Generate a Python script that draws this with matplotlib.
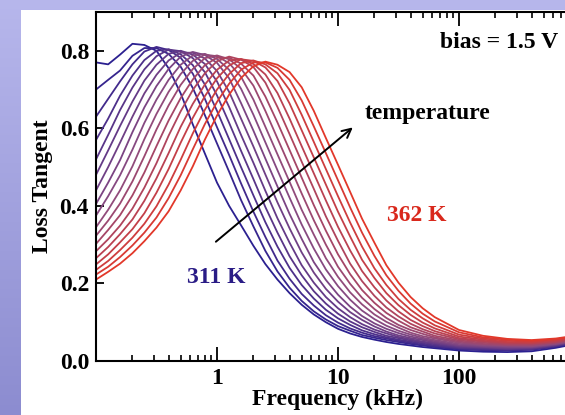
import numpy as np
import matplotlib
matplotlib.use("Agg")
import matplotlib.pyplot as plt
from matplotlib.colors import LinearSegmentedColormap
from matplotlib.patches import Rectangle
from matplotlib.ticker import FixedLocator, LogLocator, NullFormatter

plt.rcParams["font.family"] = ["Liberation Serif", "DejaVu Serif"]
plt.rcParams["font.weight"] = "bold"

# measurement frequencies (kHz): 0.1 decade apart up to 63 kHz, then 0.2 decade
freq_khz = [0.1, 0.126, 0.158, 0.2, 0.251, 0.316, 0.398, 0.501, 0.631, 0.794,
            1.0, 1.26, 1.58, 2.0, 2.51, 3.16, 3.98, 5.01, 6.31, 7.94,
            10, 12.6, 15.8, 20, 25.1, 31.6, 39.8, 50.1, 63.1,
            100, 158, 251, 398, 631, 1000]

temps_k = [311, 314, 317, 320, 323, 326, 329, 332, 335,
           338, 341, 344, 347, 350, 353, 356, 359, 362]

# loss tangent at each temperature (bias 1.5 V)
lt_311 = [0.77, 0.765, 0.79, 0.818, 0.815, 0.80, 0.755, 0.69, 0.61, 0.535,
          0.46, 0.40, 0.35, 0.297, 0.25, 0.21, 0.175, 0.145, 0.12, 0.10,
          0.083, 0.071, 0.062, 0.055, 0.049, 0.044, 0.040, 0.036, 0.033,
          0.027, 0.024, 0.023, 0.025, 0.034, 0.046]
lt_314 = [0.70, 0.725, 0.749, 0.787, 0.807, 0.807, 0.792, 0.759, 0.704, 0.634,
          0.561, 0.488, 0.415, 0.347, 0.284, 0.231, 0.189, 0.155, 0.128, 0.107,
          0.090, 0.078, 0.067, 0.060, 0.054, 0.049, 0.044, 0.040, 0.036,
          0.030, 0.028, 0.027, 0.029, 0.037, 0.049]
lt_317 = [0.63, 0.676, 0.721, 0.765, 0.798, 0.810, 0.802, 0.782, 0.741, 0.676,
          0.603, 0.531, 0.458, 0.385, 0.320, 0.259, 0.212, 0.173, 0.143, 0.118,
          0.099, 0.084, 0.073, 0.064, 0.058, 0.052, 0.047, 0.042, 0.038,
          0.032, 0.029, 0.028, 0.030, 0.038, 0.050]
lt_320 = [0.57, 0.625, 0.684, 0.736, 0.776, 0.800, 0.804, 0.791, 0.763, 0.713,
          0.645, 0.572, 0.500, 0.427, 0.358, 0.295, 0.240, 0.196, 0.161, 0.132,
          0.110, 0.093, 0.079, 0.069, 0.061, 0.055, 0.050, 0.045, 0.040,
          0.033, 0.031, 0.030, 0.031, 0.039, 0.050]
lt_323 = [0.52, 0.583, 0.647, 0.705, 0.752, 0.786, 0.803, 0.799, 0.781, 0.745,
          0.685, 0.614, 0.542, 0.469, 0.397, 0.331, 0.270, 0.221, 0.180, 0.148,
          0.122, 0.102, 0.087, 0.075, 0.065, 0.059, 0.053, 0.048, 0.043,
          0.035, 0.033, 0.031, 0.032, 0.040, 0.052]
lt_326 = [0.48, 0.543, 0.606, 0.669, 0.723, 0.764, 0.792, 0.800, 0.790, 0.766,
          0.721, 0.655, 0.583, 0.511, 0.439, 0.368, 0.305, 0.247, 0.202, 0.165,
          0.136, 0.113, 0.095, 0.081, 0.071, 0.062, 0.056, 0.050, 0.046,
          0.037, 0.035, 0.032, 0.034, 0.041, 0.053]
lt_329 = [0.44, 0.50, 0.563, 0.630, 0.690, 0.738, 0.775, 0.795, 0.795, 0.780,
          0.748, 0.694, 0.625, 0.553, 0.481, 0.409, 0.342, 0.280, 0.228, 0.186,
          0.153, 0.126, 0.106, 0.089, 0.076, 0.066, 0.059, 0.054, 0.048,
          0.039, 0.036, 0.034, 0.035, 0.042, 0.053]
lt_332 = [0.405, 0.46, 0.518, 0.590, 0.654, 0.709, 0.753, 0.785, 0.797, 0.789,
          0.769, 0.729, 0.665, 0.594, 0.522, 0.450, 0.379, 0.315, 0.255, 0.209,
          0.171, 0.140, 0.116, 0.097, 0.083, 0.072, 0.063, 0.057, 0.051,
          0.041, 0.038, 0.036, 0.036, 0.043, 0.054]
lt_335 = [0.375, 0.425, 0.479, 0.545, 0.614, 0.674, 0.725, 0.764, 0.788, 0.792,
          0.779, 0.751, 0.702, 0.635, 0.564, 0.492, 0.421, 0.352, 0.290, 0.236,
          0.193, 0.158, 0.130, 0.108, 0.091, 0.078, 0.068, 0.060, 0.054,
          0.044, 0.040, 0.038, 0.038, 0.044, 0.055]
lt_338 = [0.345, 0.39, 0.440, 0.502, 0.572, 0.637, 0.694, 0.740, 0.774, 0.790,
          0.786, 0.768, 0.733, 0.674, 0.604, 0.533, 0.462, 0.390, 0.326, 0.265,
          0.217, 0.177, 0.146, 0.120, 0.101, 0.086, 0.073, 0.064, 0.058,
          0.047, 0.042, 0.040, 0.039, 0.045, 0.056]
lt_341 = [0.323, 0.362, 0.406, 0.463, 0.528, 0.597, 0.659, 0.712, 0.753, 0.781,
          0.788, 0.778, 0.754, 0.710, 0.645, 0.574, 0.503, 0.432, 0.363, 0.300,
          0.243, 0.199, 0.163, 0.134, 0.111, 0.093, 0.080, 0.070, 0.061,
          0.050, 0.044, 0.041, 0.041, 0.047, 0.057]
lt_344 = [0.302, 0.338, 0.376, 0.427, 0.486, 0.554, 0.620, 0.678, 0.726, 0.763,
          0.782, 0.782, 0.767, 0.736, 0.682, 0.615, 0.544, 0.473, 0.402, 0.336,
          0.275, 0.224, 0.183, 0.150, 0.124, 0.104, 0.087, 0.076, 0.065,
          0.053, 0.047, 0.043, 0.043, 0.048, 0.058]
lt_347 = [0.283, 0.314, 0.349, 0.393, 0.447, 0.510, 0.581, 0.644, 0.699, 0.742,
          0.773, 0.785, 0.777, 0.758, 0.718, 0.655, 0.585, 0.514, 0.444, 0.373,
          0.310, 0.251, 0.206, 0.168, 0.138, 0.115, 0.096, 0.082, 0.071,
          0.056, 0.050, 0.045, 0.045, 0.049, 0.060]
lt_350 = [0.265, 0.294, 0.327, 0.365, 0.413, 0.471, 0.536, 0.604, 0.663, 0.713,
          0.751, 0.775, 0.779, 0.766, 0.739, 0.691, 0.625, 0.554, 0.484, 0.414,
          0.346, 0.285, 0.232, 0.190, 0.156, 0.128, 0.106, 0.090, 0.077,
          0.059, 0.052, 0.047, 0.046, 0.051, 0.061]
lt_353 = [0.249, 0.275, 0.306, 0.340, 0.381, 0.434, 0.495, 0.563, 0.627, 0.683,
          0.729, 0.762, 0.778, 0.774, 0.757, 0.722, 0.664, 0.595, 0.525, 0.455,
          0.385, 0.321, 0.261, 0.214, 0.175, 0.144, 0.119, 0.099, 0.084,
          0.063, 0.055, 0.049, 0.048, 0.053, 0.062]
lt_356 = [0.235, 0.258, 0.286, 0.318, 0.354, 0.399, 0.455, 0.519, 0.587, 0.648,
          0.700, 0.740, 0.768, 0.775, 0.765, 0.742, 0.699, 0.635, 0.565, 0.495,
          0.425, 0.357, 0.295, 0.239, 0.196, 0.160, 0.132, 0.110, 0.092,
          0.068, 0.058, 0.052, 0.050, 0.055, 0.064]
lt_359 = [0.223, 0.243, 0.268, 0.298, 0.331, 0.370, 0.420, 0.479, 0.546, 0.611,
          0.668, 0.715, 0.751, 0.770, 0.770, 0.756, 0.725, 0.672, 0.605, 0.536,
          0.466, 0.396, 0.331, 0.271, 0.221, 0.181, 0.148, 0.122, 0.102,
          0.074, 0.061, 0.055, 0.052, 0.056, 0.065]
lt_362 = [0.210, 0.230, 0.251, 0.278, 0.309, 0.344, 0.386, 0.440, 0.502, 0.571,
          0.633, 0.687, 0.730, 0.760, 0.772, 0.764, 0.745, 0.706, 0.645, 0.575,
          0.506, 0.436, 0.367, 0.305, 0.247, 0.202, 0.165, 0.136, 0.113,
          0.080, 0.065, 0.057, 0.054, 0.058, 0.067]

curves = [lt_311, lt_314, lt_317, lt_320, lt_323, lt_326, lt_329, lt_332, lt_335,
          lt_338, lt_341, lt_344, lt_347, lt_350, lt_353, lt_356, lt_359, lt_362]

W, H = 565, 415
fig = plt.figure(figsize=(W / 100, H / 100), dpi=100)

# lavender backdrop with a white panel
bg = fig.add_axes([0, 0, 1, 1], zorder=-10)
grad = np.linspace(0, 1, 256).reshape(-1, 1)
bg_cmap = LinearSegmentedColormap.from_list("bg", ["#b7b7ec", "#8c8cd0"])
bg.imshow(grad, aspect="auto", cmap=bg_cmap, extent=[0, 1, 0, 1], origin="upper")
bg.add_patch(Rectangle((21 / W, 0), 1, 405 / H, facecolor="white", edgecolor="none"))
bg.set_xlim(0, 1)
bg.set_ylim(0, 1)
bg.axis("off")

ax = fig.add_axes([96 / W, 54 / H, 484 / W, 349 / H])
ax.set_facecolor("white")

line_cmap = LinearSegmentedColormap.from_list("temp", ["#2b2090", "#8c4c80", "#e2382a"])
n = len(temps_k)
for i, (t, vals) in enumerate(zip(temps_k, curves)):
    ax.plot(freq_khz, vals, color=line_cmap(i / (n - 1)), lw=1.3, label=f"{t} K")

ax.set_xscale("log")
ax.set_xlim(0.1, 1000)
ax.set_ylim(0, 0.9)

ax.xaxis.set_major_locator(FixedLocator([1, 10, 100]))
ax.set_xticklabels(["1", "10", "100"])
ax.xaxis.set_minor_locator(LogLocator(base=10, subs=range(2, 10)))
ax.xaxis.set_minor_formatter(NullFormatter())
ax.set_yticks([0.0, 0.2, 0.4, 0.6, 0.8])
ax.set_yticklabels(["0.0", "0.2", "0.4", "0.6", "0.8"])

ax.tick_params(axis="x", which="major", direction="in", length=10, width=1.3,
               top=True, labelsize=17, pad=5)
ax.tick_params(axis="x", which="minor", direction="in", length=4.5, width=1.2, top=True)
ax.tick_params(axis="y", which="major", direction="in", length=6, width=1.3,
               right=False, labelsize=17, pad=5)
for s in ax.spines.values():
    s.set_linewidth(1.5)
ax.spines["right"].set_visible(False)

ax.set_xlabel("Frequency (kHz)", fontsize=17, fontweight="bold", labelpad=0)
ax.set_ylabel("Loss Tangent", fontsize=17, fontweight="bold", labelpad=5)

ax.text(69.6, 0.808, "bias = 1.5 V", fontsize=17, fontweight="bold", va="baseline")
ax.text(16.7, 0.625, "temperature", fontsize=17, fontweight="bold", va="baseline")
ax.text(25.3, 0.361, "362 K", fontsize=17, fontweight="bold", va="baseline",
        color="#d9281c")
ax.text(0.562, 0.20, "311 K", fontsize=17, fontweight="bold", va="baseline",
        color="#2a1c86")
ax.annotate("", xy=(13.8, 0.607), xytext=(0.94, 0.303),
            arrowprops=dict(arrowstyle="->", lw=1.4, color="black", mutation_scale=16))

fig.savefig("out.png", dpi=100)
